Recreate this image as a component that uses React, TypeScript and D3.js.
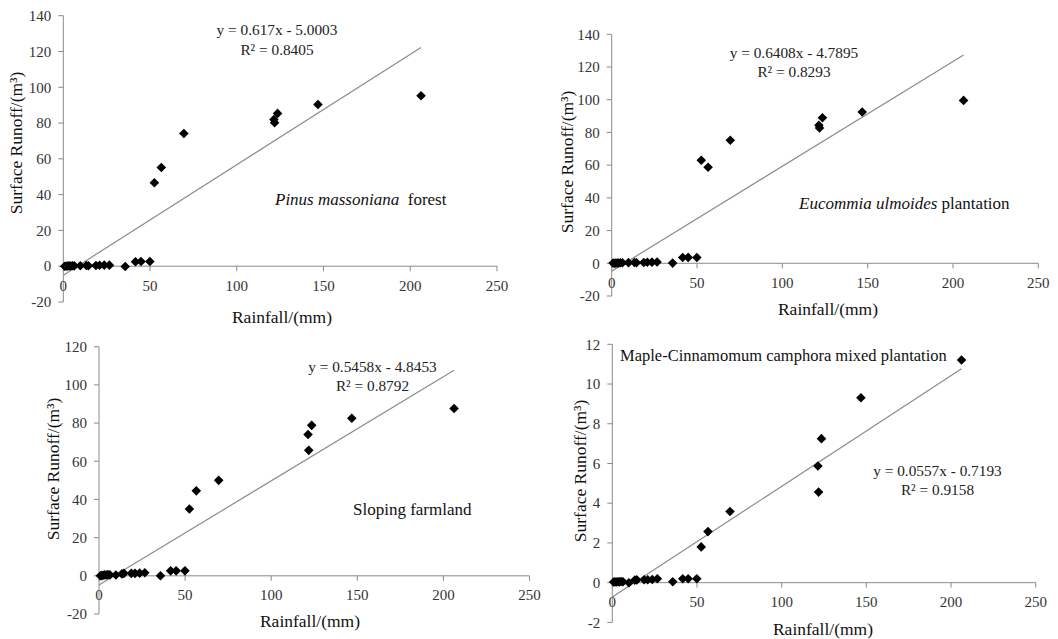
import React from 'react';
import * as d3 from 'd3';

// ---------- data ----------
const rainfall = [0.8, 1.6, 2.4, 3.3, 4.2, 5.2, 6.3, 9.8, 13.3, 14.5, 18.8, 20.9, 23.6, 26.6, 35.7, 41.6, 44.8, 49.9, 52.5, 56.5, 69.5, 121.4, 121.8, 123.5, 146.8, 206.2];
const pinusRunoff = [0, 0, 0.1, 0.2, 0.1, 0.3, 0.2, 0.3, 0.4, 0.3, 0.4, 0.5, 0.6, 0.6, -0.2, 2.5, 2.6, 2.6, 46.6, 55.2, 74.2, 82.0, 80.2, 85.4, 90.4, 95.3];
const eucommiaRunoff = [0.1, 0, 0.1, 0.2, 0.2, 0.3, 0.3, 0.4, 0.5, 0.4, 0.5, 0.6, 0.7, 0.8, 0.1, 3.5, 3.6, 3.5, 63.0, 58.7, 75.2, 84.4, 82.7, 89.0, 92.5, 99.6];
const slopingRunoff = [0, 0.1, 0.3, 0.5, 0.4, 0.6, 0.5, 0.4, 1.0, 1.3, 1.3, 1.3, 1.4, 1.6, 0.0, 2.6, 2.6, 2.6, 35.0, 44.5, 50.0, 74.0, 65.7, 78.8, 82.5, 87.6];
const mapleRunoff = [0.03, 0.04, 0.03, 0.05, 0.04, 0.06, 0.05, 0.0, 0.13, 0.14, 0.15, 0.15, 0.16, 0.2, 0.05, 0.2, 0.2, 0.2, 1.8, 2.57, 3.58, 5.87, 4.56, 7.25, 9.31, 11.21];

const xTicks = [0, 50, 100, 150, 200, 250];
const yTicksForest = [-20, 0, 20, 40, 60, 80, 100, 120, 140];
const yTicksSloping = [-20, 0, 20, 40, 60, 80, 100, 120];
const yTicksMaple = [-2, 0, 2, 4, 6, 8, 10, 12];

const slopes = [0.617, 0.6408, 0.5458, 0.0557];
const intercepts = [-5.0003, -4.7895, -4.8453, -0.7193];
const equationLabels = ['y = 0.617x - 5.0003', 'y = 0.6408x - 4.7895', 'y = 0.5458x - 4.8453', 'y = 0.0557x - 0.7193'];
const r2Labels = ['R\u00B2 = 0.8405', 'R\u00B2 = 0.8293', 'R\u00B2 = 0.8792', 'R\u00B2 = 0.9158'];
const xTitle = 'Rainfall/(mm)';
const yTitle = 'Surface Runoff/(m\u00B3)';

// ---------- layout ----------
type Layout = {
  x0: number; x1: number; yBottom: number; yTop: number;
  eqX: number; eqY: number; r2Y: number;
  labX: number; labY: number; labSize: number;
  xtX: number; xtY: number; ytX: number; ytY: number;
};

const layouts: Layout[] = [
  { x0: 63.3, x1: 497, yBottom: 302, yTop: 15.7, eqX: 277, eqY: 35, r2Y: 55, labX: 275, labY: 205, labSize: 17, xtX: 282, xtY: 323, ytX: 22, ytY: 143 },
  { x0: 611.7, x1: 1038.3, yBottom: 296, yTop: 34.3, eqX: 794, eqY: 58, r2Y: 77, labX: 799, labY: 209, labSize: 17, xtX: 828, xtY: 315, ytX: 573, ytY: 162 },
  { x0: 99, x1: 529.5, yBottom: 614, yTop: 346.7, eqX: 372.5, eqY: 371.7, r2Y: 390.7, labX: 353, labY: 515, labSize: 17, xtX: 310, xtY: 627, ytX: 59, ytY: 469 },
  { x0: 612.3, x1: 1035.7, yBottom: 622.4, yTop: 344.3, eqX: 937.5, eqY: 475.7, r2Y: 495, labX: 620, labY: 361, labSize: 16.5, xtX: 823, xtY: 635, ytX: 586, ytY: 471 },
];

const series = [pinusRunoff, eucommiaRunoff, slopingRunoff, mapleRunoff];
const yTickSets = [yTicksForest, yTicksForest, yTicksSloping, yTicksMaple];

const FONT = '"Liberation Serif", "Times New Roman", serif';
const AXIS = '#8a8a8a';

const diamond = {
  draw(ctx: any, size: number) {
    const r = Math.sqrt(size / 2);
    ctx.moveTo(0, -r);
    ctx.lineTo(r, 0);
    ctx.lineTo(0, r);
    ctx.lineTo(-r, 0);
    ctx.closePath();
  },
};
const diamondPath = d3.symbol().type(diamond as any).size(46)() as string;

function PanelLabel({ i, l }: { i: number; l: Layout }) {
  const common = { x: l.labX, y: l.labY, fontSize: l.labSize, fontFamily: FONT, fill: '#111' } as any;
  if (i === 0) return <text {...common}><tspan fontStyle="italic">Pinus massoniana</tspan>{'\u00A0 forest'}</text>;
  if (i === 1) return <text {...common}><tspan fontStyle="italic">Eucommia ulmoides</tspan>{' plantation'}</text>;
  if (i === 2) return <text {...common}>Sloping farmland</text>;
  return <text {...common}>Maple-Cinnamomum camphora mixed plantation</text>;
}

function Panel({ i }: { i: number }) {
  const l = layouts[i];
  const yt = yTickSets[i];
  const yMin = yt[0];
  const yMax = yt[yt.length - 1];
  const x = d3.scaleLinear().domain([0, 250]).range([l.x0, l.x1]);
  const y = d3.scaleLinear().domain([yMin, yMax]).range([l.yBottom, l.yTop]);
  const values = series[i];
  const xMax = d3.max(rainfall) as number;
  const trend = d3.line<number>().x((d) => x(d)).y((d) => y(slopes[i] * d + intercepts[i]))([0, xMax]) as string;

  return (
    <g>
      {/* y axis */}
      <line x1={x(0)} x2={x(0)} y1={y(yMin)} y2={y(yMax)} stroke={AXIS} strokeWidth={1} />
      {yt.map((t) => (
        <g key={'y' + t}>
          <line x1={x(0) - 5} x2={x(0)} y1={y(t)} y2={y(t)} stroke={AXIS} strokeWidth={1} />
          <text x={x(0) - 12} y={y(t)} dy="0.35em" textAnchor="end" fontSize={15} fontFamily={FONT} fill="#333">{t}</text>
        </g>
      ))}
      {/* x axis at y=0 */}
      <line x1={x(0)} x2={x(250)} y1={y(0)} y2={y(0)} stroke={AXIS} strokeWidth={1} />
      {xTicks.map((t) => (
        <g key={'x' + t}>
          <line x1={x(t)} x2={x(t)} y1={y(0)} y2={y(0) + 5} stroke={AXIS} strokeWidth={1} />
          <text x={x(t)} y={y(0) + 24.5} textAnchor="middle" fontSize={15} fontFamily={FONT} fill="#333">{t}</text>
        </g>
      ))}
      {/* trend line */}
      <path d={trend} fill="none" stroke="#8c8c8c" strokeWidth={1.2} />
      {/* points */}
      {rainfall.map((r, k) => (
        <path key={k} d={diamondPath} transform={`translate(${x(r)},${y(values[k])})`} fill="#000" />
      ))}
      {/* equation */}
      <text x={l.eqX} y={l.eqY} textAnchor="middle" fontSize={15.3} fontFamily={FONT} fill="#222">{equationLabels[i]}</text>
      <text x={l.eqX} y={l.r2Y} textAnchor="middle" fontSize={15.3} fontFamily={FONT} fill="#222">{r2Labels[i]}</text>
      <PanelLabel i={i} l={l} />
      {/* axis titles */}
      <text x={l.xtX} y={l.xtY} textAnchor="middle" fontSize={17.5} fontFamily={FONT} fill="#111">{xTitle}</text>
      <text transform={`translate(${l.ytX},${l.ytY}) rotate(-90)`} textAnchor="middle" fontSize={17.5} fontFamily={FONT} fill="#111">{yTitle}</text>
    </g>
  );
}

export default function App() {
  return (
    <svg width={1058} height={639} viewBox="0 0 1058 639" style={{ position: 'absolute', left: 0, top: 0, background: '#fff' }}>
      <rect width={1058} height={639} fill="#fff" />
      {[0, 1, 2, 3].map((i) => <Panel key={i} i={i} />)}
    </svg>
  );
}
